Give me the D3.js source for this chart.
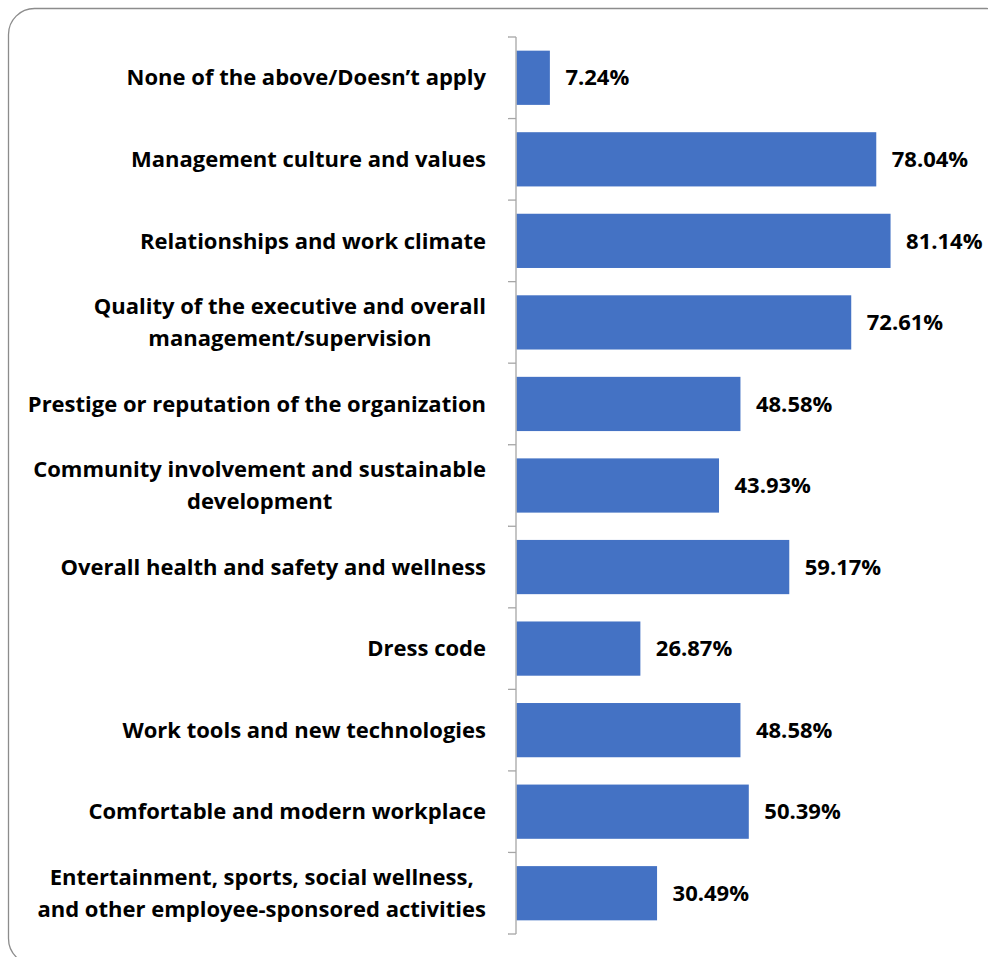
<!DOCTYPE html>
<html>
<head>
<meta charset="utf-8">
<script src="https://cdn.jsdelivr.net/npm/d3@7"></script>
<style>
  html, body { margin: 0; padding: 0; background: #fff; }
  svg { display: block; }
</style>
</head>
<body>
<svg id="chart" width="988" height="957"></svg>
<script>
// Category labels (top to bottom); "\n" separates wrapped lines
const categories = [
  "None of the above/Doesn’t apply",
  "Management culture and values",
  "Relationships and work climate",
  "Quality of the executive and overall\nmanagement/supervision",
  "Prestige or reputation of the organization",
  "Community involvement and sustainable\ndevelopment",
  "Overall health and safety and wellness",
  "Dress code",
  "Work tools and new technologies",
  "Comfortable and modern workplace",
  "Entertainment, sports, social wellness,\nand other employee-sponsored activities"
];

// Share of respondents, percent
const values = [7.24, 78.04, 81.14, 72.61, 48.58, 43.93, 59.17, 26.87, 48.58, 50.39, 30.49];

const svg = d3.select("#chart");
const FONT = "'Open Sans', Lato, sans-serif";
const FONT_SIZE = 22;
const BAR = "#4472C4";

// Chart frame with rounded corners
svg.append("rect")
  .attr("x", 8.5).attr("y", 8.5)
  .attr("width", 1004).attr("height", 956)
  .attr("rx", 26).attr("ry", 26)
  .attr("fill", "#fff")
  .attr("stroke", "#8c8c8c")
  .attr("stroke-width", 1.3);

const axisX = 516;
const x = d3.scaleLinear().domain([0, 100]).range([axisX, axisX + 461]);
const y = d3.scaleBand()
  .domain(d3.range(categories.length))
  .range([37, 934])
  .paddingInner(0.335)
  .paddingOuter(0.1675);

// Bars
svg.append("g").selectAll("rect")
  .data(values)
  .join("rect")
  .attr("x", x(0) + 0.5)
  .attr("y", (d, i) => y(i))
  .attr("width", d => x(d) - x(0))
  .attr("height", y.bandwidth())
  .attr("fill", BAR);

// Category axis line with tick marks between categories
const axisG = svg.append("g").attr("stroke", "#a6a6a6").attr("stroke-width", 1.3);
axisG.append("line")
  .attr("x1", axisX).attr("x2", axisX)
  .attr("y1", 37).attr("y2", 934);
const step = y.step();
const boundaries = d3.range(categories.length + 1).map(i => 37 + i * step);
axisG.selectAll("line.tick")
  .data(boundaries)
  .join("line")
  .attr("class", "tick")
  .attr("x1", axisX - 8).attr("x2", axisX)
  .attr("y1", d => d).attr("y2", d => d);

// Category labels: each block right-aligned, its lines centred on each other
const labelRight = 486;
const lineH = 32;
const labels = svg.append("g")
  .attr("font-family", FONT)
  .attr("font-weight", "bold")
  .attr("font-size", FONT_SIZE)
  .attr("fill", "#000");

categories.forEach((c, i) => {
  const lines = c.split("\n");
  const cy = y(i) + y.bandwidth() / 2;
  const t = labels.append("text").attr("text-anchor", "middle");
  const spans = lines.map((ln, k) =>
    t.append("tspan")
      .attr("y", cy + (k - (lines.length - 1) / 2) * lineH)
      .attr("dy", "0.35em")
      .text(ln));
  const w = d3.max(spans, s => s.node().getComputedTextLength());
  spans.forEach(s => s.attr("x", labelRight - w / 2));
});

// Value labels at bar ends
svg.append("g")
  .attr("font-family", FONT)
  .attr("font-weight", "bold")
  .attr("font-size", FONT_SIZE)
  .attr("fill", "#000")
  .selectAll("text")
  .data(values)
  .join("text")
  .attr("x", d => x(d) + 16)
  .attr("y", (d, i) => y(i) + y.bandwidth() / 2)
  .attr("dy", "0.35em")
  .text(d => d.toFixed(2) + "%");
</script>
</body>
</html>
